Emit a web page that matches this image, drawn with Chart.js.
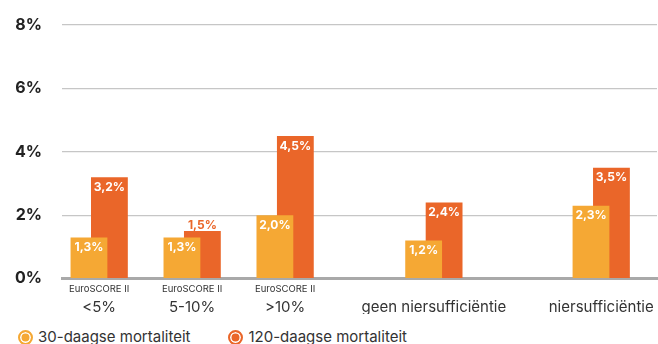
<!DOCTYPE html>
<html lang="nl">
<head>
<meta charset="utf-8">
<title>Mortaliteit</title>
<script src="https://cdn.jsdelivr.net/npm/chart.js@4.4.0/dist/chart.umd.min.js"></script>
<style>
  html, body { margin: 0; padding: 0; background: #fff; overflow: hidden; }
  body { width: 658px; height: 344px; position: relative; font-family: Inter, sans-serif; }
  #wrap { position: absolute; left: 0; top: 0; width: 662px; height: 314px; }
  #legende { position: absolute; left: 18px; top: 328px; display: flex; gap: 38px;
             font-size: 15px; line-height: 18px; color: #333; white-space: nowrap; }
  #legende .item { display: flex; align-items: center; }
  #legende i { display: inline-block; width: 11px; height: 11px; border-radius: 50%;
               border: 2px solid; margin-right: 5px; box-shadow: inset 0 0 0 1.5px #fff; }
</style>
</head>
<body>
<div id="wrap"><canvas id="grafiek"></canvas></div>
<div id="legende"></div>
<script>
// gegevens
const groupLabels = ['EuroSCORE II', 'EuroSCORE II', 'EuroSCORE II', '', ''];
const categories = ['<5%', '5-10%', '>10%', 'geen niersufficiëntie', 'niersufficiëntie'];
const seriesNames = ['30-daagse mortaliteit', '120-daagse mortaliteit'];
const mortality30 = [1.3, 1.3, 2.0, 1.2, 2.3];
const mortality120 = [3.2, 1.5, 4.5, 2.4, 3.5];

// opmaak: de x-as is een raster van smalle vakjes, elke groep staat in een eigen vakje
const colors = ['#f5a834', '#ea6629'];
const slotCount = 33;
const groupSlot = [2, 7, 12, 20, 29];

function spread(values) {
  var out = new Array(slotCount).fill(null);
  groupSlot.forEach(function (slot, i) { out[slot] = values[i]; });
  return out;
}

var topLine = spread(groupLabels).map(function (v) { return v || ''; });
var bottomLine = spread(categories).map(function (v) { return v || ''; });

Chart.defaults.font.family = 'Inter, sans-serif';

// percentages in of boven de staven
const waardeLabels = {
  id: 'waardeLabels',
  afterDatasetsDraw: function (chart) {
    var ctx = chart.ctx;
    var kort = chart.getDatasetMeta(0).data;
    ctx.save();
    ctx.font = 'bold 12px Inter, sans-serif';
    ctx.textAlign = 'center';
    chart.data.datasets.forEach(function (ds, d) {
      chart.getDatasetMeta(d).data.forEach(function (bar, i) {
        if (ds.data[i] === null) return;
        var tekst = ds.data[i].toFixed(1).replace('.', ',') + '%';
        // staaf steekt nauwelijks boven de gele uit: label erboven
        if (d === 1 && kort[i].y - bar.y < 16) {
          ctx.fillStyle = colors[1];
          ctx.textBaseline = 'alphabetic';
          ctx.fillText(tekst, bar.x, bar.y - 2);
        } else {
          ctx.fillStyle = '#fff';
          ctx.textBaseline = 'middle';
          ctx.fillText(tekst, bar.x, bar.y + 10);
        }
      });
    });
    ctx.restore();
  }
};

new Chart(document.getElementById('grafiek'), {
  type: 'bar',
  data: {
    labels: topLine,
    datasets: [
      { label: seriesNames[0], data: spread(mortality30), backgroundColor: colors[0] },
      { label: seriesNames[1], data: spread(mortality120), backgroundColor: colors[1] }
    ]
  },
  options: {
    responsive: true,
    maintainAspectRatio: false,
    animation: false,
    categoryPercentage: 2.2,
    barPercentage: 1.8,
    layout: { padding: { left: 8, top: 25, right: 2, bottom: 0 } },
    scales: {
      x: {
        offset: false,
        weight: 0,
        grid: { display: false, drawTicks: false },
        border: { color: '#a9a9a9', width: 3 },
        ticks: { autoSkip: false, maxRotation: 0, color: '#333', font: { size: 9.5 }, padding: 5 }
      },
      x2: {
        type: 'category',
        position: 'bottom',
        labels: bottomLine,
        offset: false,
        weight: 1,
        grid: { display: false, drawTicks: false },
        border: { display: false },
        ticks: { autoSkip: false, maxRotation: 0, color: '#333', font: { size: 15 }, padding: -2 }
      },
      y: {
        min: 0,
        max: 8,
        afterFit: function (scale) { scale.width = 54; },
        grid: { color: '#c6c6c6', lineWidth: 1.2, tickLength: 12, tickColor: 'rgba(0,0,0,0)' },
        border: { display: false },
        ticks: {
          stepSize: 2,
          padding: 8,
          color: '#222',
          font: { size: 16, weight: 'bold' },
          callback: function (v) { return v + '%'; }
        }
      }
    },
    plugins: {
      legend: { display: false },
      tooltip: { enabled: false }
    }
  },
  plugins: [waardeLabels]
});

var html = '';
seriesNames.forEach(function (naam, s) {
  html += '<span class="item"><i style="background:' + colors[s] + ';border-color:' + colors[s] + '"></i>' + naam + '</span>';
});
document.getElementById('legende').innerHTML = html;
</script>
</body>
</html>
